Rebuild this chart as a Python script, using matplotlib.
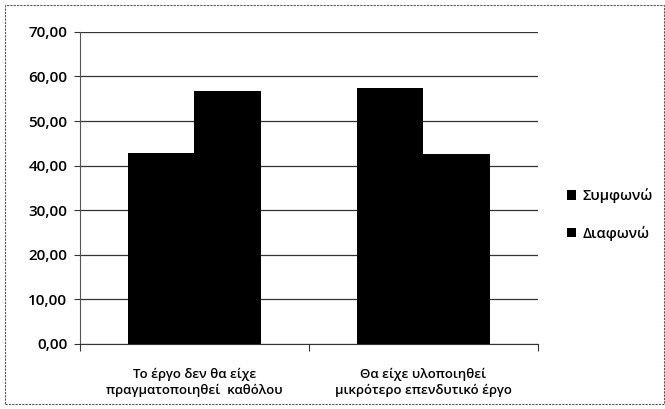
import numpy as np
import matplotlib.pyplot as plt
from matplotlib.patches import Rectangle
from matplotlib.ticker import FuncFormatter

plt.rcParams['font.family'] = ['Open Sans', 'DejaVu Sans']
plt.rcParams['font.weight'] = 'semibold'

# Δεδομένα
categories = ["Το έργο δεν θα είχε\nπραγματοποιηθεί  καθόλου",
              "Θα είχε υλοποιηθεί\nμικρότερο επενδυτικό έργο"]
agree = [42.9, 57.4]      # Συμφωνώ
disagree = [56.8, 42.6]   # Διαφωνώ
series_labels = ["Συμφωνώ", "Διαφωνώ"]

fig = plt.figure(figsize=(6.65, 4.09), dpi=100)
ax = fig.add_axes([0.120, 0.159, 0.689, 0.763])

x = np.arange(len(categories))
w = 0.29
ax.bar(x - w / 2, agree, w, color="black", label=series_labels[0], zorder=3)
ax.bar(x + w / 2, disagree, w, color="black", label=series_labels[1], zorder=3)

ax.set_xlim(-0.5, 1.5)
ax.set_ylim(0, 70)
ax.set_yticks(np.arange(0, 71, 10))
ax.yaxis.set_major_formatter(FuncFormatter(lambda v, p: f"{v:.2f}".replace(".", ",")))
ax.grid(axis="y", color="#333333", linewidth=0.9, zorder=0)

ax.set_xticks([-0.5, 0.5, 1.5])
ax.set_xticklabels([])
ax.set_xticks(x, minor=True)
ax.set_xticklabels(categories, minor=True, fontsize=9.5, linespacing=1.35)
ax.tick_params(axis="x", which="minor", length=0, pad=17)
ax.tick_params(axis="x", which="major", length=5, color="#333333")
ax.tick_params(axis="y", length=4, labelsize=11, color="#333333", pad=5)

for s in ["top", "right"]:
    ax.spines[s].set_visible(False)
ax.spines["left"].set_color("#555555")
ax.spines["bottom"].set_color("#333333")

ax.legend(loc="center left", bbox_to_anchor=(1.035, 0.415), frameon=False,
          fontsize=10.5, handlelength=0.6, handleheight=0.6, handletextpad=0.45,
          labelspacing=1.55)

# πλαίσιο γύρω από το γράφημα
fig.patches.append(Rectangle((0.008, 0.012), 0.99, 0.975, transform=fig.transFigure,
                             fill=False, edgecolor="#555555", linestyle=(0, (2, 1)),
                             linewidth=0.8))

fig.savefig("out.png", dpi=100)
